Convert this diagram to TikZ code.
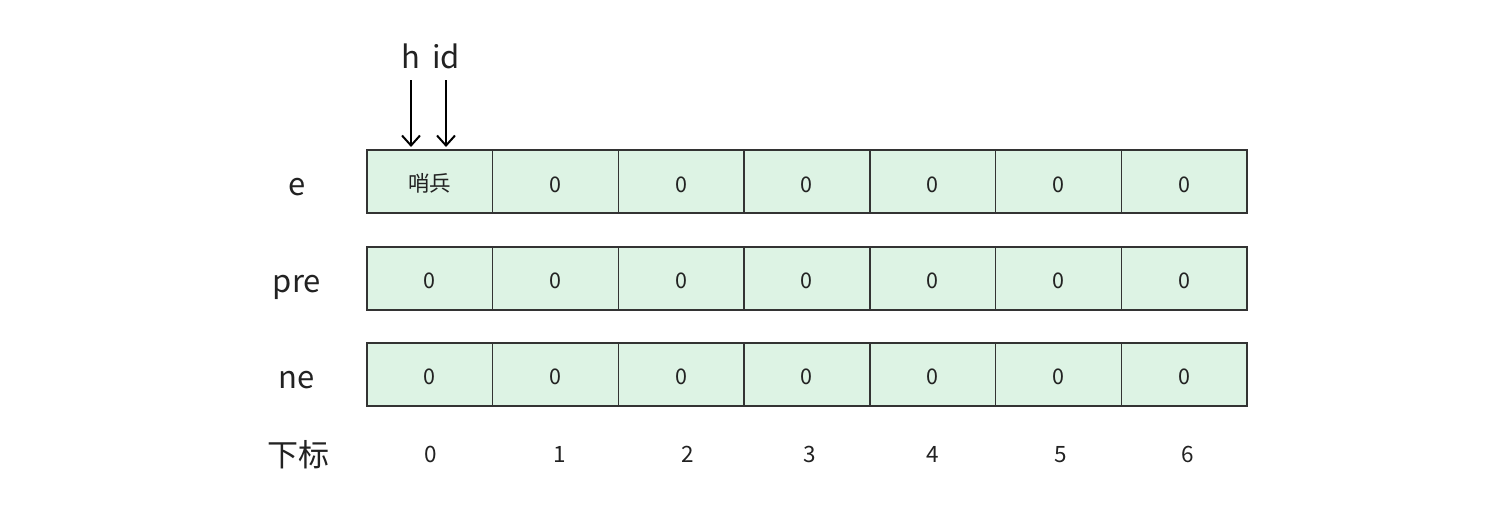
\documentclass[tikz,border=0pt]{standalone}
\usepackage{fontspec}
\setmainfont{Noto Sans CJK SC}
\usetikzlibrary{arrows.meta}
\definecolor{cellfill}{HTML}{DDF3E4}
\definecolor{cellline}{HTML}{333333}
\definecolor{txt}{HTML}{222222}
\tikzset{
  cell/.style={draw=cellline, fill=cellfill, line width=1.4pt, minimum width=125.7pt, minimum height=63pt, inner sep=0pt},
  celltext/.style={font=\fontsize{21.5}{21.5}\selectfont, text=txt, inner sep=0pt, anchor=base},
  rowlabel/.style={font=\fontsize{31}{31}\selectfont, text=txt, inner sep=0pt, anchor=base},
  idx/.style={font=\fontsize{22.5}{22.5}\selectfont, text=txt, inner sep=0pt, anchor=base},
  ptr/.style={line width=2pt, -{Straight Barb[length=10pt, width=18pt, line width=2pt]}}
}
\begin{document}
\begin{tikzpicture}[x=1pt,y=-1pt]
\useasboundingbox (0,0) rectangle (1504,507);
% rows
\foreach \r/\y/\b in {e/181.5/192, p/278.5/288.5, n/374.5/384.5}{
  \foreach \i in {0,...,6}{
    \node[cell] (\r\i) at ({367+125.7*\i+62.85},\y) {};
  }
  \foreach \i in {1,...,6}{
    \node[celltext] (t\r\i) at ({367+125.7*\i+62.85},\b) {0};
  }
}
\node[celltext] (te0) at ({367+62.85},191.5) {哨兵};
\node[celltext] (tp0) at ({367+62.85},288.5) {0};
\node[celltext] (tn0) at ({367+62.85},384.5) {0};
\node[rowlabel] (le) at (297,195) {e};
\node[rowlabel] (lp) at (297,292) {pre};
\node[rowlabel] (ln) at (297,388) {ne};
\node[rowlabel] (lx) at (298,466) {下标};
\foreach \i/\x in {0/431,1/560,2/688,3/810,4/933,5/1061,6/1188}{
  \node[idx] (x\i) at (\x,462) {\i};
}
\node[rowlabel] (h) at (411,68) {h};
\node[rowlabel] (id) at (446,68) {id};
\coordinate (hs) at (411,80);
\coordinate (is) at (446,80);
\coordinate (ht) at (411,147);
\coordinate (it) at (446,147);
\draw[ptr] (hs) -- (ht);
\draw[ptr] (is) -- (it);
\end{tikzpicture}
\end{document}
